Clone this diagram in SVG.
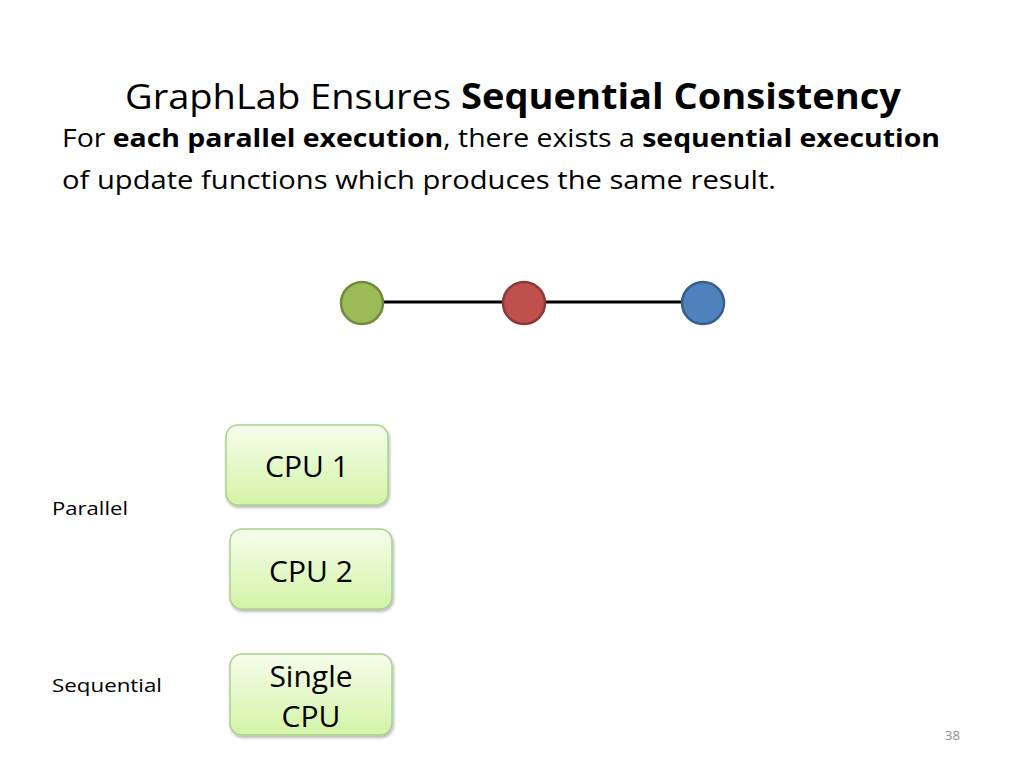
<svg xmlns="http://www.w3.org/2000/svg" width="1024" height="768" viewBox="0 0 1024 768">
<style>
text{font-family:"Open Sans","Liberation Sans",sans-serif;fill:#000;font-variant-ligatures:none}
.title{font-size:35px}
.body{font-size:25px}
.lbl{font-size:18px}
.cpu{font-size:30px;text-anchor:middle}
.box{fill:url(#g);stroke:#a9d18e;stroke-width:1.5;filter:url(#sh)}
.edge{stroke:#000;stroke-width:3}
</style>
<defs>
<linearGradient id="g" x1="0" y1="0" x2="0" y2="1">
<stop offset="0" stop-color="#f6fdec"/>
<stop offset="1" stop-color="#d3f4a6"/>
</linearGradient>
<filter id="sh" x="-10%" y="-10%" width="125%" height="130%">
<feDropShadow dx="1" dy="2" stdDeviation="1.5" flood-color="#000" flood-opacity="0.3"/>
</filter>
</defs>
<rect width="1024" height="768" fill="#fff"/>
<text class="title" x="125" y="109" textLength="776" lengthAdjust="spacingAndGlyphs">GraphLab Ensures <tspan font-weight="bold">Sequential Consistency</tspan></text>
<text class="body" x="62" y="147" textLength="878" lengthAdjust="spacingAndGlyphs">For <tspan font-weight="bold">each parallel execution</tspan>, there exists a <tspan font-weight="bold">sequential execution</tspan></text>
<text class="body" x="62" y="189" textLength="714" lengthAdjust="spacingAndGlyphs">of update functions which produces the same result.</text>
<g id="connectors">
<line class="edge" x1="383" y1="302" x2="503" y2="302"/>
<line class="edge" x1="545" y1="302" x2="682" y2="302"/>
</g>
<g id="node-green"><circle cx="362" cy="303" r="21" fill="#9bbb59" stroke="#71893f" stroke-width="2.5"/></g>
<g id="node-red"><circle cx="524" cy="303" r="21" fill="#c0504d" stroke="#8c3836" stroke-width="2.5"/></g>
<g id="node-blue"><circle cx="703" cy="303" r="21" fill="#4f81bd" stroke="#385d8a" stroke-width="2.5"/></g>
<g id="cpu1"><rect class="box" x="226" y="425" width="162" height="80" rx="12"/><text class="cpu" x="307" y="477">CPU 1</text></g>
<g id="cpu2"><rect class="box" x="230" y="529" width="162" height="80" rx="12"/><text class="cpu" x="311" y="582">CPU 2</text></g>
<g id="single"><rect class="box" x="230" y="654" width="162" height="81" rx="12"/><text class="cpu" x="311" y="687">Single</text><text class="cpu" x="311" y="727">CPU</text></g>
<text class="lbl" x="52" y="515" textLength="76" lengthAdjust="spacingAndGlyphs">Parallel</text>
<text class="lbl" x="52" y="692" textLength="110" lengthAdjust="spacingAndGlyphs">Sequential</text>
<text x="945" y="740" font-size="13" style="fill:#8c8c8c">38</text>
</svg>
